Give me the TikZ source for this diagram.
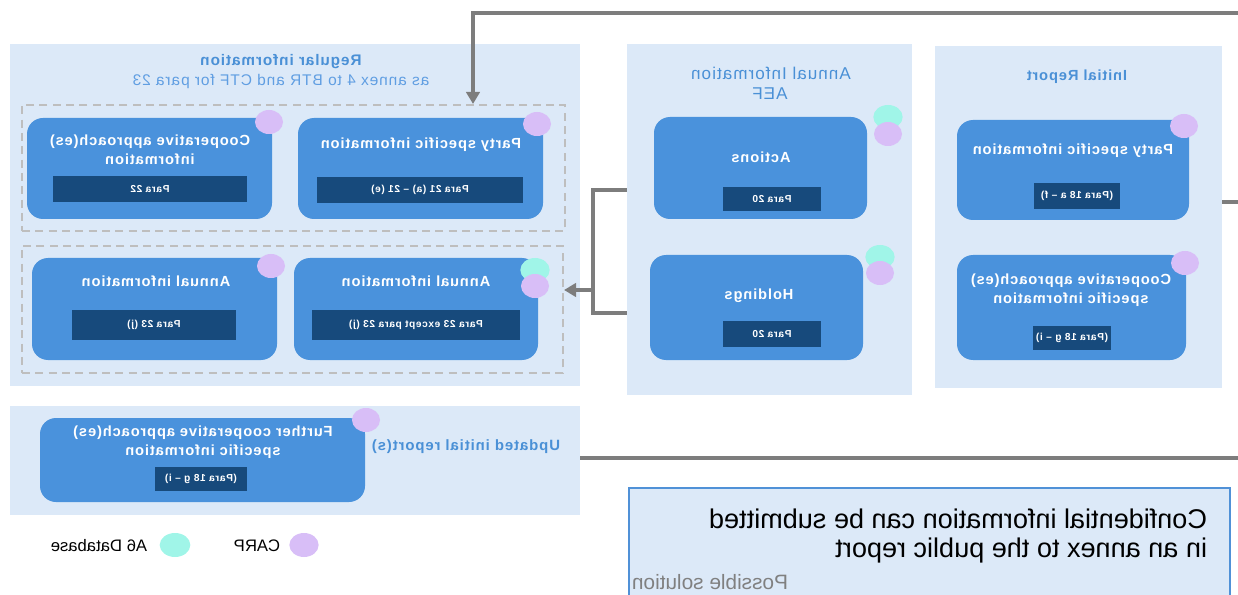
\documentclass[tikz,border=0pt]{standalone}
\usepackage{fontspec}
\setmainfont{Liberation Sans}
\newfontfamily\widefont[LetterSpace=6]{Liberation Sans}
\usetikzlibrary{arrows.meta,fit,shapes.geometric}
\definecolor{panelbg}{RGB}{220, 233, 248}
\definecolor{cardblue}{RGB}{74, 146, 220}
\definecolor{paradark}{RGB}{23, 74, 124}
\definecolor{carpviolet}{RGB}{216, 190, 247}
\definecolor{asixteal}{RGB}{160, 245, 232}
\definecolor{headblue}{RGB}{74, 144, 214}
\definecolor{subblue}{RGB}{96, 158, 226}
\definecolor{linkgray}{RGB}{125, 125, 125}
\definecolor{dashgray}{RGB}{190, 190, 190}
\definecolor{noteblue}{RGB}{80, 145, 215}

\begin{document}
\begin{tikzpicture}[x = 0.75pt, y = -0.75pt,
	panel/.style = {fill = panelbg, inner sep = 0pt},
	group/.style = {draw = dashgray, dash pattern = on 6pt off 4pt, line width = 1.5pt, inner sep = 0pt},
	card/.style = {fill = cardblue, rounded corners = 12pt, inner sep = 0pt},
	para/.style = {fill = paradark, text = white, inner sep = 0pt, xscale = -1, font = \widefont\bfseries\fontsize{7.6}{9}\selectfont},
	cardtext/.style = {text = white, align = center, xscale = -1, font = \widefont\bfseries\fontsize{11}{14.2}\selectfont},
	headtext/.style = {text = headblue, xscale = -1, font = \widefont\bfseries\fontsize{11.5}{14}\selectfont},
	subtext/.style = {text = subblue, xscale = -1, font = \widefont\fontsize{11.6}{14}\selectfont},
	legend/.style = {xscale = -1, font = \fontsize{12.5}{15}\selectfont},
	carp/.style = {ellipse, fill = carpviolet, minimum width = 21pt, minimum height = 18pt, inner sep = 0pt},
	asix/.style = {ellipse, fill = asixteal, minimum width = 22pt, minimum height = 18pt, inner sep = 0pt},
	link/.style = {draw = linkgray, line width = 2.8pt},
	flow/.style = {link, -{Triangle[length = 9pt, width = 10pt]}}]
\useasboundingbox (0,0) rectangle (1238,595);

% panels
\node (regular) [panel, fit = {(10,44) (580,386)}] {};
\node (aef) [panel, fit = {(627,44) (912,395)}] {};
\node (initial) [panel, fit = {(935,46) (1222,388)}] {};
\node (updated) [panel, fit = {(10,406) (580,515)}] {};
\node (note) [fill = panelbg, draw = noteblue, line width = 1pt, inner sep = 0pt, fit = {(629,488) (1230,610)}] {};

\node (regular-t) at (281,62) [headtext] {Regular information};
\node (regular-s) at (281,82) [subtext] {as annex 4 to BTR and CTF for para 23};
\node (aef-t) at (771,73) [subtext, text = headblue, font = \widefont\fontsize{12.8}{15}\selectfont] {Annual Information};
\node (aef-s) at (770,94) [subtext, text = headblue, font = \widefont\fontsize{12.8}{15}\selectfont] {AEF};
\node (initial-t) at (1077,77) [headtext, font = \widefont\bfseries\fontsize{11}{14}\selectfont] {Initial Report};
\node (updated-t) at (466,447) [headtext, font = \widefont\bfseries\fontsize{11.2}{14}\selectfont] {Updated initial report(s)};

% dashed groups
\node (group1) [group, fit = {(22,105) (565,231)}] {};
\node (group2) [group, fit = {(22,246) (563,373)}] {};

% cards
\node (coop) [card, fit = {(27,118) (272,219)}] {};
\node (party) [card, fit = {(298,118) (543,219)}] {};
\node (annualj) [card, fit = {(32,258) (277,360)}] {};
\node (annual) [card, fit = {(294,258) (538,360)}] {};
\node (actions) [card, fit = {(654,117) (867,219)}] {};
\node (holdings) [card, fit = {(650,255) (863,360)}] {};
\node (partyir) [card, fit = {(957,120) (1189,220)}] {};
\node (coopir) [card, fit = {(957,255) (1186,360)}] {};
\node (further) [card, fit = {(40,418) (365,502)}] {};

\node (coop-t) at (150,150) [cardtext] {Cooperative approach(es)\\information};
\node (party-t) at (421,145) [cardtext] {Party specific information};
\node (annualj-t) at (156,281) [cardtext] {Annual information};
\node (annual-t) at (416,281) [cardtext] {Annual information};
\node (actions-t) at (761,157) [cardtext] {Actions};
\node (holdings-t) at (759,296) [cardtext] {Holdings};
\node (partyir-t) at (1073,151) [cardtext] {Party specific information};
\node (coopir-t) at (1071,290) [cardtext] {Cooperative approach(es)\\specific information};
\node (further-t) at (203,442) [cardtext] {Further cooperative approach(es)\\specific information};

% para labels
\node (coop-p) at (150,189) [para, minimum width = 146pt, minimum height = 19.5pt] {Para 22};
\node (party-p) at (420,190) [para, minimum width = 154pt, minimum height = 19.5pt] {Para 21 (a) – 21 (e)};
\node (annualj-p) at (154,325) [para, minimum width = 123pt, minimum height = 22.5pt] {Para 23 (j)};
\node (annual-p) at (416,325) [para, minimum width = 156pt, minimum height = 22.5pt] {Para 23 except para 23 (j)};
\node (actions-p) at (772,199) [para, minimum width = 74pt, minimum height = 18pt] {Para 20};
\node (holdings-p) at (772,334) [para, minimum width = 74pt, minimum height = 19.5pt] {Para 20};
\node (partyir-p) at (1077,196) [para, minimum width = 64pt, minimum height = 19.5pt] {(Para 18 a – f)};
\node (coopir-p) at (1072,338) [para, minimum width = 59pt, minimum height = 18pt] {(Para 18 g – i)};
\node (further-p) at (201,479) [para, minimum width = 69pt, minimum height = 18pt] {(Para 18 g – i)};

% markers
\node (coop-c) at (269,122) [carp] {};
\node (party-c) at (537,124) [carp] {};
\node (annualj-c) at (271,266) [carp] {};
\node (annual-a) at (535,270) [asix] {};
\node (annual-c) at (535,286) [carp] {};
\node (actions-a) at (888,117) [asix] {};
\node (actions-c) at (888,134) [carp] {};
\node (holdings-a) at (880,257) [asix] {};
\node (holdings-c) at (880,273) [carp] {};
\node (partyir-c) at (1184,126) [carp] {};
\node (coopir-c) at (1185,263) [carp] {};
\node (further-c) at (366,420) [carp] {};

% legend
\node (key-a) at (175,545) [asix, minimum width = 23pt] {};
\node (key-a-t) at (99,546) [legend] {A6 Database};
\node (key-c) at (304,545) [carp, minimum width = 22pt] {};
\node (key-c-t) at (257,546) [legend] {CARP};

% note
\node (note-t) at (958,536) [xscale = -1, align = left, font = \fontsize{20.3}{21.8}\selectfont] {Confidential information can be submitted\\in an annex to the public report};
\node (note-s) at (710,582) [xscale = -1, text = gray, font = \fontsize{15.6}{18}\selectfont] {Possible solution};

% connectors
\coordinate (topin) at (1238,13);
\coordinate (topdrop) at (473,13);
\coordinate (stub) at (1238,202);
\coordinate (outright) at (1238,458);
\coordinate (bendtop) at (593,190);
\coordinate (bendbot) at (593,313);
\coordinate (bend) at (593,290);
\draw[flow] (topin) -- (topdrop) -- (topdrop |- group1.north);
\draw[link] (initial.east |- stub) -- (stub);
\draw[link] (updated.east |- outright) -- (outright);
\draw[link] (aef.west |- bendtop) -- (bendtop) -- (bendbot) -- (aef.west |- bendbot);
\draw[flow] (bend) -- (group2.east |- bend);
\end{tikzpicture}
\end{document}
